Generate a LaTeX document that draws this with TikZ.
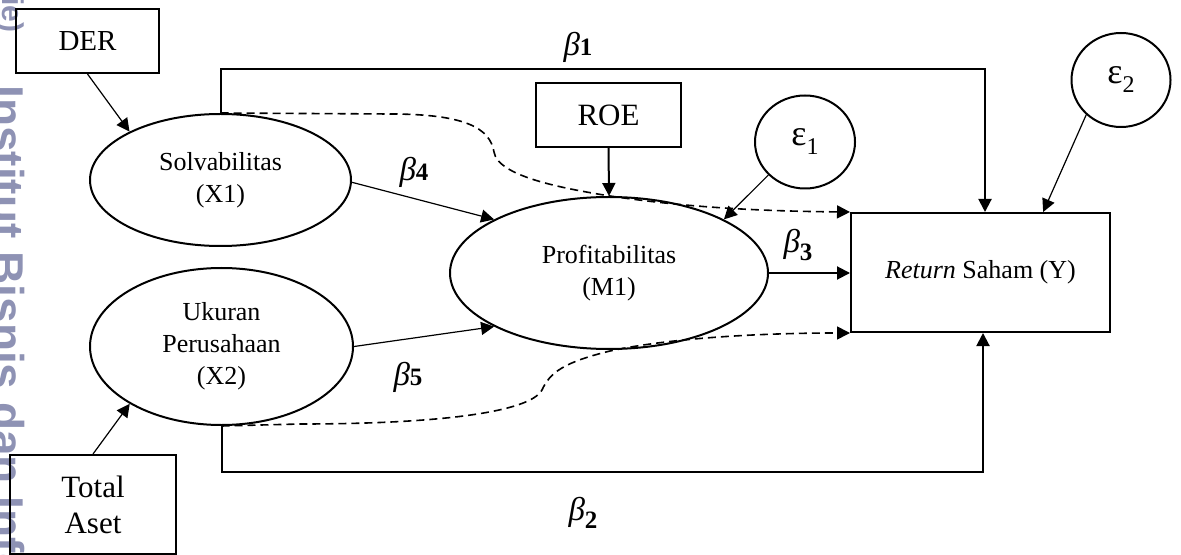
\documentclass[tikz,border=0pt]{standalone}
\usepackage{fontspec}
\setmainfont{Liberation Serif}
\newfontfamily\wmfont{Liberation Sans}
\usetikzlibrary{arrows.meta,shapes.geometric}
\definecolor{wm}{HTML}{8E92B4}
\newcommand{\betaLab}[1]{{\fontsize{16.5}{16.5}\selectfont\itshape β}{\fontsize{12.5}{12.5}\selectfont\bfseries #1}}
\newcommand{\betaSub}[1]{{\fontsize{16.5}{16.5}\selectfont\itshape β}\raisebox{-4pt}{\fontsize{12.5}{12.5}\selectfont\bfseries #1}}
\newcommand{\epsLab}[1]{{\fontsize{18}{18}\selectfont ε}\raisebox{-4.5pt}{\fontsize{12}{12}\selectfont #1}}
\begin{document}
\begin{tikzpicture}[x=0.5pt,y=-0.5pt,
  box/.style={draw, line width=1pt, rectangle, inner sep=0pt, align=center},
  oval/.style={draw, line width=1pt, ellipse, inner sep=0pt, align=center, font=\fontsize{13}{16}\selectfont},
  err/.style={draw, line width=1pt, ellipse, inner sep=0pt},
  tip/.style={-{Triangle[length=6.5pt,width=6.5pt]}},
  thinarrow/.style={tip, line width=0.6pt},
  mainarrow/.style={tip, line width=1pt},
  indirect/.style={tip, line width=0.8pt, dash pattern=on 4pt off 2.5pt},
  lab/.style={inner sep=0pt},
  wmtext/.style={inner sep=0pt, text=wm, font=\wmfont\bfseries\fontsize{23}{23}\selectfont},
  ]
\useasboundingbox (0,0) rectangle (1181,555);
\begin{scope}
  \clip (0,0) rectangle (1181,555);
  \node[wmtext, rotate=-90, anchor=base west] (wm1) at (-9,85) {Institut Bisnis dan Informatika Kwik Kian Gie};
  \node[wmtext, font=\wmfont\bfseries\fontsize{15}{15}\selectfont, rotate=-90, anchor=base east] (wm0) at (3,33) {ie)};
\end{scope}

\node[box, minimum width=71.5pt, minimum height=32pt, font=\fontsize{14.5}{17}\selectfont] (DER) at (87.5,41) {DER};
\node[box, minimum width=72.5pt, minimum height=32pt, font=\fontsize{15.5}{18}\selectfont] (ROE) at (608.5,115) {ROE};
\node[box, minimum width=83pt, minimum height=49.5pt, font=\fontsize{15.5}{18}\selectfont] (TA) at (93,504.5) {Total\\Aset};
\node[box, minimum width=129.5pt, minimum height=59.5pt, font=\fontsize{13}{16}\selectfont] (Y) at (980.5,272.5) {\textit{Return} Saham (Y)};
\node[oval, minimum width=130.5pt, minimum height=66pt] (X1) at (220.5,180) {Solvabilitas\\(X1)};
\node[oval, minimum width=131.5pt, minimum height=78.5pt] (X2) at (221.5,346.5) {Ukuran\\Perusahaan\\(X2)};
\node[oval, minimum width=159pt, minimum height=76pt] (M1) at (609,273) {Profitabilitas\\(M1)};
\node[err, minimum width=50pt, minimum height=46.5pt] (e1) at (805,142) {\epsLab{1}};
\node[err, minimum width=49.5pt, minimum height=47pt] (e2) at (1121,80) {\epsLab{2}};

\draw[thinarrow] (DER.south) -- (X1.152.6);
\draw[thinarrow] (TA.north) -- (X2.212.6);
\draw[thinarrow] (X1.-1) -- (M1.155.1);
\draw[thinarrow] (X2.east) -- (M1.205.3);
\draw[mainarrow] (ROE.south) -- (M1.north);
\draw[thinarrow] (e1.222.6) -- (M1.25.4);
\draw[thinarrow] (e2.225.8) -- (Y.44.05);
\draw[mainarrow] (M1.east) -- (M1.east -| Y.west);
\coordinate (b1) at (985,69);
\coordinate (b2) at (983,472);
\draw[mainarrow] (X1.north) |- (b1) -- (b1 |- Y.north);
\draw[mainarrow] (X2.south) |- (b2) -- (b2 |- Y.south);

\draw[indirect] (X1.north) -- (390,114) .. controls (465,114) and (490,128) .. (494,152) .. controls (498,176) and (560,188) .. (610,196) .. controls (670,205) and (740,211) .. (Y.north west);
\draw[indirect] (X2.south) -- (300,424) .. controls (440,424) and (530,412) .. (542,390) .. controls (550,372) and (565,362) .. (610,351) .. controls (670,338) and (760,333) .. (Y.south west);

\node[lab] (L1) at (578,47) {\betaLab{1}};
\node[lab] (L4) at (414,172) {\betaLab{4}};
\node[lab] (L5) at (408,377) {\betaLab{5}};
\node[lab] (L3) at (798,245) {\betaSub{3}};
\node[lab] (L2) at (583,513) {\betaSub{2}};
\end{tikzpicture}
\end{document}
